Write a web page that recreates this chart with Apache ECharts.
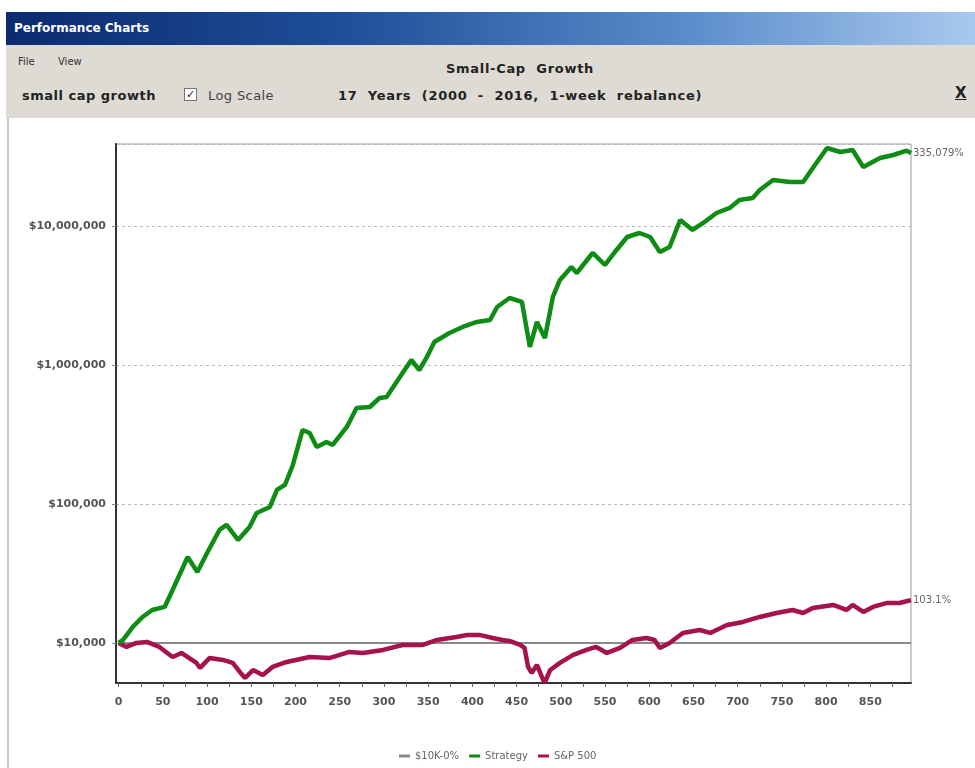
<!DOCTYPE html>
<html>
<head>
<meta charset="utf-8">
<title>Performance Charts</title>
<script src="https://cdn.jsdelivr.net/npm/echarts@6/dist/echarts.min.js"></script>
<style>
  html, body { margin: 0; padding: 0; background: #fff; }
  body { width: 975px; height: 768px; position: relative; overflow: hidden; font-family: "DejaVu Sans", sans-serif; }
  .titlebar {
    position: absolute; left: 6px; top: 12px; width: 969px; height: 33px;
    background: linear-gradient(to right, #0b2a6f 0%, #1e4f98 35%, #5a8ccb 70%, #a9c9ee 100%);
    color: #fff; font-weight: bold; font-size: 12px; line-height: 33px; padding-left: 8px; box-sizing: border-box;
  }
  .toolbar { position: absolute; left: 6px; top: 45px; width: 969px; height: 73px; background: #dedbd4; }
  .frame { position: absolute; left: 7px; top: 118px; width: 2px; height: 650px; background: #c8c8c8; }
  .menu { position: absolute; top: 56px; font-size: 10px; color: #333; }
  .name { position: absolute; left: 22px; top: 88px; font-size: 13px; font-weight: bold; color: #222; letter-spacing: 0.5px; }
  .check { position: absolute; left: 184px; top: 88px; width: 11px; height: 11px; border: 1px solid #777; background: #fff;
    font-size: 11px; line-height: 11px; text-align: center; color: #222; }
  .logscale { position: absolute; left: 208px; top: 88px; font-size: 13px; color: #444; letter-spacing: 0.4px; }
  .head { position: absolute; left: 250px; width: 540px; text-align: center; font-size: 13px; font-weight: bold; color: #222; white-space: pre; letter-spacing: 0.7px; }
  .close { position: absolute; left: 955px; top: 84px; font-size: 15px; font-weight: bold; text-decoration: underline; color: #222; }
  #chart { position: absolute; left: 0; top: 0; width: 975px; height: 768px; }
</style>
</head>
<body>
<div class="titlebar">Performance Charts</div>
<div class="toolbar"></div>
<div class="frame"></div>
<div class="menu" style="left:18px">File</div>
<div class="menu" style="left:58px">View</div>
<div class="name">small cap growth</div>
<div class="check">✓</div>
<div class="logscale">Log Scale</div>
<div class="head" style="top:61px">Small-Cap  Growth</div>
<div class="head" style="top:88px">17  Years  (2000  -  2016,  1-week  rebalance)</div>
<div class="close">X</div>
<div id="chart"></div>
<script>
  // weeks since start
  var strategyWeeks = [0, 5, 16, 27, 38, 52, 61, 78, 89, 100, 114, 122, 135, 148, 156, 171, 179, 188, 197, 208,
    216, 224, 235, 242, 258, 269, 284, 295, 303, 318, 331, 340, 348, 357, 374, 389, 405, 420, 428, 442,
    456, 465, 473, 482, 491, 499, 512, 518, 536, 550, 563, 575, 589, 601, 612, 623, 635, 649, 661, 676,
    691, 702, 717, 725, 740, 759, 774, 785, 801, 816, 830, 842, 861, 876, 891, 896]
  var strategyValues = [10000, 10510, 13040, 15380, 17270, 18160, 24060, 41560, 32420, 44410, 65010, 70630, 55080, 68330, 86150, 95150, 126100, 137000, 190800, 340700,
    324200, 257200, 279300, 265800, 358100, 490500, 498700, 578700, 588400, 819600, 1086000, 920400, 1123000, 1464000, 1699000, 1877000, 2039000, 2107000, 2614000, 3034000,
    2840000, 1348000, 2039000, 1564000, 3085000, 4088000, 5070000, 4591000, 6394000, 5241000, 6720000, 8335000, 8904000, 8335000, 6501000, 7063000, 11050000, 9359000, 10510000, 12400000,
    13480000, 15390000, 15900000, 18160000, 21430000, 20730000, 20730000, 26140000, 36410000, 34070000, 35220000, 26580000, 30850000, 32420000, 34800000, 33517900]

  var spWeeks = [0, 9, 20, 32, 46, 61, 71, 88, 92, 103, 118, 129, 137, 143, 152, 163, 174, 190, 216, 239,
    261, 276, 299, 321, 344, 360, 382, 394, 408, 423, 434, 442, 454, 459, 463, 467, 473, 480, 482, 488,
    499, 514, 529, 540, 552, 567, 581, 597, 606, 612, 623, 638, 657, 669, 688, 706, 725, 744, 762, 774,
    785, 808, 823, 830, 842, 853, 869, 883, 893, 896]
  var spValues = [10000, 9360, 10000, 10170, 9360, 7930, 8470, 7180, 6610, 7800, 7550, 7180, 6190, 5600, 6390, 5890, 6720, 7300, 7930, 7800,
    8615, 8470, 8910, 9670, 9670, 10510, 11050, 11420, 11420, 10860, 10510, 10340, 9670, 9200, 6720, 6080, 6950, 5420, 5200, 6390,
    7180, 8200, 8910, 9360, 8470, 9200, 10510, 10860, 10510, 9200, 10000, 11800, 12400, 11800, 13470, 14160, 15380, 16430, 17270, 16430,
    17860, 18770, 17270, 18770, 16710, 18160, 19400, 19400, 20100, 20310]

  var baseWeeks = [0, 896]
  var baseValues = [10000, 10000]

  var xTickLabels = [0, 50, 100, 150, 200, 250, 300, 350, 400, 450, 500, 550, 600, 650, 700, 750, 800, 850]
  var xMinorTicks = [0, 25, 50, 75, 100, 125, 150, 175, 200, 225, 250, 275, 300, 325, 350, 375, 400, 425,
    450, 475, 500, 525, 550, 575, 600, 625, 650, 675, 700, 725, 750, 775, 800, 825, 850, 875]

  var strategyEnd = '335,079%'
  var spEnd = '103.1%'

  function pairs(xs, ys) {
    return xs.map(function (x, i) { return [x, ys[i]] })
  }

  var chart = echarts.init(document.getElementById('chart'))
  var labelFont = {fontFamily: 'DejaVu Sans', fontSize: 11, fontWeight: 'bold', color: '#555'}

  var option = {
    animation: false,
    grid: {
      left: 116, top: 144, right: 64, bottom: 85,
      show: true, borderColor: '#9a9a9a', borderWidth: 1
    },
    legend: {
      left: 394, top: 746,
      icon: 'rect', itemWidth: 11, itemHeight: 3, itemGap: 10,
      textStyle: {fontFamily: 'DejaVu Sans', fontSize: 10, color: '#666'},
      data: ['$10K-0%', 'Strategy', 'S&P 500']
    },
    xAxis: {
      type: 'value',
      min: -3, max: 896,
      axisLine: {show: true, onZero: false, lineStyle: {color: '#333', width: 2}},
      axisTick: {show: true, length: 4, customValues: xMinorTicks, lineStyle: {color: '#666'}},
      axisLabel: Object.assign({margin: 14, customValues: xTickLabels}, labelFont),
      splitLine: {show: false}
    },
    yAxis: {
      type: 'log',
      logBase: 10,
      min: 5150, max: 38900000,
      axisLine: {show: true, onZero: false, lineStyle: {color: '#333', width: 2}},
      axisTick: {show: true, length: 4, lineStyle: {color: '#888'}},
      axisLabel: Object.assign({
        margin: 10, showMinLabel: false, showMaxLabel: false,
        formatter: function (v) {
          var e = Math.log10(v)
          if (Math.abs(e - Math.round(e)) > 1e-6) return ''
          return '$' + Math.round(v).toLocaleString('en-US')
        }
      }, labelFont),
      splitLine: {show: true, lineStyle: {color: '#b8b8b8', type: [3, 3], width: 1}}
    },
    series: [
      {
        name: '$10K-0%', type: 'line', data: pairs(baseWeeks, baseValues),
        showSymbol: false, color: '#8a8a8a', lineStyle: {width: 2}, z: 2
      },
      {
        name: 'Strategy', type: 'line', data: pairs(strategyWeeks, strategyValues),
        showSymbol: false, color: '#0e8c14', lineStyle: {width: 4.5}, z: 4,
        endLabel: {show: true, formatter: strategyEnd, distance: 2, fontFamily: 'DejaVu Sans', fontSize: 10, color: '#666'}
      },
      {
        name: 'S&P 500', type: 'line', data: pairs(spWeeks, spValues),
        showSymbol: false, color: '#a5124c', lineStyle: {width: 4.5}, z: 3,
        endLabel: {show: true, formatter: spEnd, distance: 2, fontFamily: 'DejaVu Sans', fontSize: 10, color: '#666'}
      }
    ]
  }
  chart.setOption(option)
</script>
</body>
</html>
